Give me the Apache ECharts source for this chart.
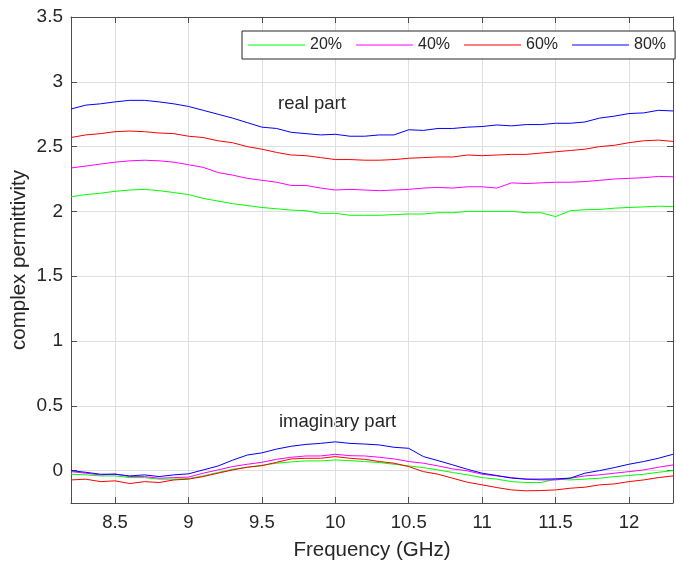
<!DOCTYPE html>
<html>
<head>
<meta charset="utf-8">
<script src="https://cdn.jsdelivr.net/npm/echarts@6/dist/echarts.min.js"></script>
<style>
  html, body { margin: 0; padding: 0; background: #fff; }
  #chart { width: 676px; height: 562px; }
</style>
</head>
<body>
<div id="chart"></div>
<script>
// frequency samples (GHz)
const freqs = [8.2, 8.3, 8.4, 8.5, 8.6, 8.7, 8.8, 8.9, 9.0, 9.1, 9.2, 9.3, 9.4, 9.5,
  9.6, 9.7, 9.8, 9.9, 10.0, 10.1, 10.2, 10.3, 10.4, 10.5, 10.6, 10.7, 10.8, 10.9,
  11.0, 11.1, 11.2, 11.3, 11.4, 11.5, 11.6, 11.7, 11.8, 11.9, 12.0, 12.1, 12.2, 12.3];

const seriesNames = ["20%", "40%", "60%", "80%"];
const seriesColors = ["#00ff00", "#ff00ff", "#ff0000", "#0000ff"];

// real part
const real20 = [2.113, 2.13, 2.14, 2.155, 2.165, 2.17, 2.16, 2.145, 2.13, 2.10, 2.08,
  2.06, 2.045, 2.03, 2.02, 2.01, 2.005, 1.985, 1.985, 1.97, 1.97, 1.97, 1.975, 1.98,
  1.98, 1.99, 1.99, 2.0, 2.0, 2.0, 2.0, 1.99, 1.99, 1.96, 2.005, 2.013, 2.015, 2.025,
  2.03, 2.035, 2.04, 2.037];
const real40 = [2.335, 2.35, 2.365, 2.38, 2.39, 2.395, 2.39, 2.38, 2.36, 2.34, 2.30,
  2.28, 2.255, 2.24, 2.225, 2.20, 2.20, 2.18, 2.165, 2.17, 2.165, 2.16, 2.165, 2.17,
  2.18, 2.185, 2.18, 2.19, 2.19, 2.18, 2.22, 2.215, 2.22, 2.225, 2.225, 2.23, 2.24,
  2.25, 2.255, 2.26, 2.27, 2.267];
const real60 = [2.57, 2.59, 2.60, 2.615, 2.62, 2.615, 2.605, 2.60, 2.58, 2.57, 2.545,
  2.53, 2.50, 2.48, 2.455, 2.435, 2.43, 2.415, 2.40, 2.40, 2.395, 2.395, 2.40, 2.41,
  2.415, 2.42, 2.42, 2.435, 2.43, 2.435, 2.44, 2.44, 2.45, 2.46, 2.47, 2.48, 2.50,
  2.51, 2.53, 2.545, 2.55, 2.54];
const real80 = [2.79, 2.82, 2.83, 2.845, 2.857, 2.857, 2.845, 2.83, 2.81, 2.78, 2.75,
  2.72, 2.685, 2.65, 2.64, 2.61, 2.60, 2.59, 2.595, 2.58, 2.58, 2.59, 2.59, 2.63,
  2.625, 2.64, 2.64, 2.65, 2.655, 2.667, 2.66, 2.67, 2.67, 2.68, 2.68, 2.69, 2.72,
  2.735, 2.755, 2.76, 2.78, 2.775];

// imaginary part
const imag20 = [-0.028, -0.033, -0.041, -0.041, -0.054, -0.054, -0.066, -0.066, -0.061,
  -0.041, -0.015, 0.01, 0.026, 0.041, 0.057, 0.067, 0.075, 0.075, 0.082, 0.077, 0.07,
  0.062, 0.049, 0.036, 0.023, 0.005, -0.015, -0.033, -0.054, -0.066, -0.085, -0.092,
  -0.092, -0.066, -0.072, -0.066, -0.059, -0.046, -0.038, -0.028, -0.013, 0.0];
const imag40 = [-0.008, -0.02, -0.033, -0.026, -0.046, -0.046, -0.059, -0.054, -0.05,
  -0.02, 0.005, 0.031, 0.049, 0.064, 0.087, 0.103, 0.113, 0.113, 0.126, 0.115, 0.113,
  0.103, 0.09, 0.07, 0.057, 0.036, 0.013, -0.002, -0.028, -0.041, -0.054, -0.066,
  -0.072, -0.072, -0.059, -0.041, -0.033, -0.02, -0.008, 0.005, 0.026, 0.044];
const imag60 = [-0.072, -0.066, -0.085, -0.079, -0.1, -0.085, -0.092, -0.072, -0.066,
  -0.046, -0.02, 0.005, 0.026, 0.038, 0.064, 0.09, 0.095, 0.095, 0.108, 0.095, 0.087,
  0.07, 0.057, 0.031, -0.008, -0.028, -0.059, -0.09, -0.11, -0.131, -0.149, -0.156,
  -0.154, -0.149, -0.136, -0.128, -0.11, -0.103, -0.085, -0.072, -0.054, -0.041];
const imag80 = [0.0, -0.013, -0.028, -0.028, -0.041, -0.033, -0.046, -0.033, -0.025,
  0.005, 0.035, 0.08, 0.12, 0.137, 0.166, 0.188, 0.202, 0.21, 0.222, 0.21, 0.205,
  0.198, 0.18, 0.172, 0.108, 0.077, 0.044, 0.01, -0.02, -0.038, -0.058, -0.066,
  -0.066, -0.064, -0.058, -0.02, 0.0, 0.023, 0.049, 0.07, 0.095, 0.126];

// axis ticks
const xTicks = [8.5, 9, 9.5, 10, 10.5, 11, 11.5, 12];
const yTicks = [0, 0.5, 1, 1.5, 2, 2.5, 3, 3.5];

const realSets = [real20, real40, real60, real80];
const imagSets = [imag20, imag40, imag60, imag80];

const FONT = "Liberation Sans";
const AXIS_COLOR = "#4d4d4d";
const TEXT_COLOR = "#262626";

function makeSeries(values, idx) {
  return {
    name: seriesNames[idx],
    type: "line",
    symbol: "none",
    smooth: false,
    data: freqs.map((f, i) => [f, values[i]]),
    lineStyle: { color: seriesColors[idx], width: 1 },
    itemStyle: { color: seriesColors[idx] },
    emphasis: { disabled: true },
  };
}

const series = [];
realSets.forEach((vals, i) => series.push(makeSeries(vals, i)));
imagSets.forEach((vals, i) => series.push(makeSeries(vals, i)));

const chart = echarts.init(document.getElementById("chart"));
chart.setOption({
  animation: false,
  backgroundColor: "#fff",
  textStyle: { fontFamily: FONT },
  grid: {
    left: 71,
    right: 3,
    top: 17,
    bottom: 59,
    show: false,
    containLabel: false,
    outerBoundsMode: "none",
  },
  legend: {
    data: seriesNames,
    left: 242,
    top: 31,
    width: 440,
    orient: "horizontal",
    icon: "rect",
    itemWidth: 57,
    itemHeight: 1.2,
    itemGap: 14,
    padding: [6, 9, 6, 6],
    borderColor: TEXT_COLOR,
    borderWidth: 1,
    backgroundColor: "#fff",
    textStyle: { fontFamily: FONT, fontSize: 16, color: TEXT_COLOR },
  },
  xAxis: [
    {
      type: "value",
      min: 8.2,
      max: 12.3,
      name: "Frequency (GHz)",
      nameLocation: "middle",
      nameGap: 37,
      nameTextStyle: { fontFamily: FONT, fontSize: 20.5, color: TEXT_COLOR },
      axisLine: { show: true, onZero: false, lineStyle: { color: AXIS_COLOR, width: 1 } },
      axisTick: { show: true, inside: true, length: 6, customValues: xTicks,
        lineStyle: { color: AXIS_COLOR } },
      axisLabel: { customValues: xTicks, fontFamily: FONT, fontSize: 18.5,
        color: TEXT_COLOR, margin: 10 },
      splitLine: { show: true, lineStyle: { color: "#dfdfdf", width: 1 } },
    },
    {
      type: "value",
      position: "top",
      min: 8.2,
      max: 12.3,
      axisLine: { show: true, onZero: false, lineStyle: { color: AXIS_COLOR, width: 1 } },
      axisTick: { show: true, inside: true, length: 6, customValues: xTicks,
        lineStyle: { color: AXIS_COLOR } },
      axisLabel: { show: false },
      splitLine: { show: false },
    },
  ],
  yAxis: [
    {
      type: "value",
      min: -0.25,
      max: 3.5,
      name: "complex permittivity",
      nameLocation: "middle",
      nameGap: 41,
      nameMoveOverlap: false,
      nameTextStyle: { fontFamily: FONT, fontSize: 20.5, color: TEXT_COLOR },
      axisLine: { show: true, onZero: false, lineStyle: { color: AXIS_COLOR, width: 1 } },
      axisTick: { show: true, inside: true, length: 6, customValues: yTicks,
        lineStyle: { color: AXIS_COLOR } },
      axisLabel: { customValues: yTicks, fontFamily: FONT, fontSize: 19,
        color: TEXT_COLOR, margin: 8 },
      splitLine: { show: true, lineStyle: { color: "#dfdfdf", width: 1 } },
    },
    {
      type: "value",
      position: "right",
      min: -0.25,
      max: 3.5,
      axisLine: { show: true, onZero: false, lineStyle: { color: AXIS_COLOR, width: 1 } },
      axisTick: { show: true, inside: true, length: 6, customValues: yTicks,
        lineStyle: { color: AXIS_COLOR } },
      axisLabel: { show: false },
      splitLine: { show: false },
    },
  ],
  graphic: [
    {
      type: "text",
      left: 278,
      top: 94,
      style: { text: "real part", fontFamily: FONT, fontSize: 18.5, fill: TEXT_COLOR },
    },
    {
      type: "text",
      left: 279,
      top: 412,
      style: { text: "imaginary part", fontFamily: FONT, fontSize: 18.5, fill: TEXT_COLOR },
    },
  ],
  series: series,
});
</script>
</body>
</html>
